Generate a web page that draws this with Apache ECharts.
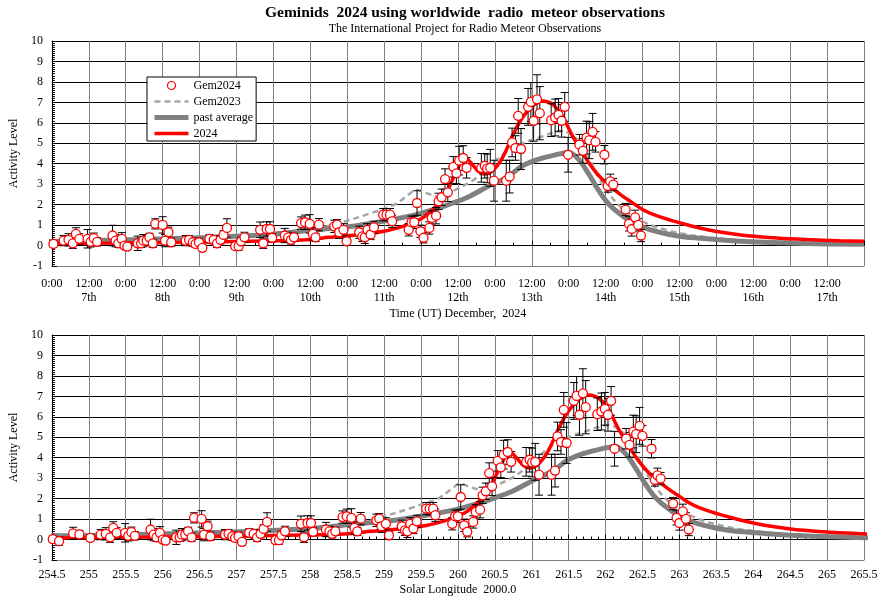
<!DOCTYPE html>
<html><head><meta charset="utf-8">
<script src="https://cdn.jsdelivr.net/npm/echarts@6/dist/echarts.min.js"></script>
<style>html,body{margin:0;padding:0;background:#fff}#c{width:885px;height:604px}</style>
</head><body><div id="c"></div>
<script>
// ---------- DATA ----------
// Observations: [hours since 2024-12-07 00:00 UT, activity level, error]
const gem2024Obs = [
[0.5,0.08,0.15],[3.8,0.24,0.25],[5.4,0.28,0.3],[6.8,0.11,0.25],[7.8,0.57,0.3],[8.9,0.33,0.25],
[11.6,0.33,0.45],[12.6,0.18,0.25],[13.6,0.36,0.25],[14.7,0.18,0.2],
[19.7,0.49,0.5],[20.7,0.24,0.3],[21.6,0.11,0.2],[22.7,0.33,0.3],[23.6,0.0,0.15],[24.5,-0.05,0.15],
[27.9,0.11,0.35],[29.0,0.11,0.2],[29.7,0.24,0.3],[30.8,0.24,0.25],[31.7,0.40,0.2],[32.8,0.11,0.2],
[33.6,1.06,0.25],[36.0,1.01,0.4],[36.8,0.24,0.3],[37.9,0.65,0.25],[38.8,0.16,0.2],
[43.5,0.24,0.25],[44.6,0.28,0.2],[45.8,0.16,0.2],[46.7,0.08,0.15],[47.8,0.16,0.2],[48.9,-0.11,0.15],
[51.2,0.33,0.2],[52.6,0.28,0.2],[53.7,0.11,0.2],[54.8,0.28,0.2],[55.8,0.52,0.2],[56.9,0.86,0.45],
[59.6,-0.03,0.15],[60.7,-0.03,0.2],[61.5,0.21,0.2],[62.6,0.40,0.25],
[67.7,0.77,0.38],[68.7,0.11,0.25],[69.8,0.81,0.35],[70.9,0.81,0.35],[71.6,0.38,0.2],
[75.7,0.49,0.35],[76.8,0.40,0.25],[77.7,0.28,0.2],[78.7,0.40,0.2],
[81.0,1.10,0.3],[82.3,1.14,0.35],[83.8,1.06,0.45],[84.8,0.57,0.3],[85.7,0.40,0.2],[86.8,1.02,0.3],
[91.8,0.94,0.3],[92.7,1.02,0.25],[93.4,0.65,0.3],[94.8,0.77,0.3],[95.8,0.21,0.2],
[99.9,0.65,0.3],[100.9,0.45,0.25],[101.7,0.40,0.3],[102.6,0.77,0.3],[103.6,0.54,0.25],[104.7,0.89,0.3],
[107.7,1.51,0.3],[108.8,1.51,0.3],[109.9,1.51,0.3],[110.6,1.19,0.3],
[116.0,0.77,0.3],[116.9,1.14,0.3],[117.8,1.14,0.3],[118.7,2.08,0.6],[119.8,0.70,0.3],[120.8,0.38,0.25],
[122.7,0.86,0.3],[123.5,1.35,0.35],[124.9,1.46,0.4],[125.7,2.16,0.4],[126.7,2.36,0.4],[127.8,3.25,0.5],[128.7,2.60,0.45],
[130.5,3.85,0.5],[131.5,3.53,0.5],[132.4,4.15,0.7],[133.7,4.28,0.6],[134.8,3.80,0.5],
[139.6,3.80,0.7],[140.7,3.90,0.6],[141.5,3.77,0.7],[142.5,3.80,0.9],[143.7,3.17,1.0],
[147.7,3.17,1.0],[148.8,3.37,0.8],[149.6,5.04,0.7],[150.7,4.77,0.6],[151.6,6.34,0.85],[152.5,4.72,1.0],
[154.8,6.78,0.9],[155.7,7.02,0.95],[156.6,6.10,1.0],[157.7,7.15,1.2],[158.6,6.47,1.3],
[162.3,6.13,0.8],[163.6,6.26,0.9],[164.7,6.39,0.8],[165.7,6.10,0.8],[166.7,6.78,0.7],[167.8,4.44,0.85],
[171.5,4.93,0.5],[172.6,4.63,0.6],[173.8,5.28,0.8],[174.7,5.15,0.9],[175.8,5.56,0.9],[176.7,5.07,0.5],
[179.6,4.44,0.45],[180.7,2.91,0.3],[181.5,3.14,0.35],[182.5,2.98,0.3],
[186.5,1.76,0.3],[187.6,1.06,0.35],[188.5,0.81,0.35],[189.6,1.38,0.35],[190.6,1.01,0.3],[191.5,0.49,0.3]
];
// observations before Dec 7 00:00 (visible only on the solar-longitude panel)
const gem2024EarlyObs = [[-11.5,0.02,0.15],[-9.5,-0.08,0.2],[-5.0,0.30,0.3],[-3.0,0.25,0.2]];

// Curves: [hours since 2024-12-07 00:00 UT, activity level]
const curve2024 = [[-12,0.08],[0,0.1],[24,0.12],[48,0.17],[72,0.23],[84,0.3],[90,0.4],[102,0.57],[108,0.7],[113,0.89],[117,1.1],[121,1.4],[125,1.95],[128,2.55],[130.5,3.3],[132.5,3.95],[134.3,4.28],[136.5,4.0],[138.5,3.65],[140.5,3.5],[143,3.62],[146.5,4.3],[150,5.45],[153,6.26],[156.3,6.83],[159.5,7.07],[162.7,6.91],[165.9,6.34],[169.2,5.37],[172.4,4.55],[175.6,3.82],[178.8,3.25],[182,2.84],[185.3,2.44],[188.5,2.11],[191.7,1.79],[195,1.55],[198.2,1.38],[204.6,1.09],[213.2,0.77],[224,0.52],[234.6,0.38],[245.4,0.29],[256,0.23],[264,0.21]];
const curvePastAverage = [[-12,0.18],[0,0.2],[24,0.28],[48,0.38],[72,0.55],[86,0.78],[97,0.93],[108,1.2],[118,1.5],[124,1.75],[129.4,2.03],[135,2.35],[142.3,2.93],[148,3.35],[153,3.9],[158.4,4.23],[163.8,4.44],[168,4.55],[171.3,4.2],[174.5,3.5],[177.8,2.68],[181,2.03],[185,1.5],[189.6,1.05],[195,0.75],[198,0.63],[204.6,0.44],[213,0.33],[224,0.21],[235,0.15],[245,0.1],[264,0.06]];
const curveGem2023 = [[-12,0.2],[0,0.22],[24,0.3],[48,0.42],[72,0.62],[86,0.85],[92.5,1.06],[103,1.55],[111.7,2.03],[116,2.5],[118.4,2.73],[122,2.55],[126.2,2.4],[131.5,2.75],[137,3.2],[142.3,3.9],[148,4.6],[153,5.0],[158.4,5.28],[163.8,5.55],[166,5.6],[168,5.5],[171.3,5.1],[174.5,4.3],[177.8,3.3],[181,2.55],[185,1.87],[189.6,1.38],[195,0.98],[200,0.75],[206,0.55],[213,0.4],[224,0.26],[235,0.18],[245,0.12],[264,0.08]];

// Axis settings / labels
const titleText = 'Geminids  2024 using worldwide  radio  meteor observations';
const subtitleText = 'The International Project for Radio Meteor Observations';
const timeAxisName = 'Time (UT) December,  2024';
const slAxisName = 'Solar Longitude  2000.0';
const yAxisName = 'Activity Level';
const firstDay = 7;
const SL_AT_START = 255.0;     // solar longitude at 2024-12-07 00:00 UT
const DEG_PER_DAY = 1.0185;

// ---------- CHART ----------
const FONT = "'Liberation Serif','Times New Roman',serif";
const toSL = h => SL_AT_START + h / 24 * DEG_PER_DAY;
const mapCurve = (c, f) => c.map(p => [f(p[0]), p[1]]);
const mapObs = (c, f) => c.map(p => [f(p[0]), p[1], p[2]]);
const ident = h => h;

const chart = echarts.init(document.getElementById('c'), null, {renderer: 'canvas'});

function yAxis(gi) {
  return {
    gridIndex: gi, type: 'value', min: -1, max: 10, interval: 1,
    axisLine: {show: true, onZero: false, lineStyle: {color: '#000', width: 1}},
    axisTick: {show: true, inside: true, length: 5, lineStyle: {color: '#000'}},
    minorTick: {show: true, splitNumber: 10, length: 3, lineStyle: {color: '#000'}},
    splitLine: {show: true, lineStyle: {color: '#000', width: 1}},
    axisLabel: {margin: 9, fontFamily: FONT, fontSize: 12, color: '#000'},
    name: yAxisName, nameLocation: 'middle', nameGap: 25, nameRotate: 90,
    nameTextStyle: {fontFamily: FONT, fontSize: 12, color: '#000'}
  };
}
function labelXAxis(gi, min, max, interval, fmt, name, nameGap, showMax, margin) {
  return {
    gridIndex: gi, type: 'value', min: min, max: max, interval: interval, position: 'bottom',
    axisLine: {show: true, onZero: false, lineStyle: {color: '#808080', width: 1}},
    axisTick: {show: false},
    splitLine: {show: true, lineStyle: {color: '#808080', width: 1}},
    axisLabel: {formatter: fmt, showMaxLabel: showMax, showMinLabel: true, margin: margin,
      fontFamily: FONT, fontSize: 12, color: '#000', lineHeight: 14},
    name: name, nameLocation: 'middle', nameGap: nameGap,
    nameTextStyle: {fontFamily: FONT, fontSize: 12, color: '#000'}
  };
}
function zeroXAxis(gi, min, max, interval, minorSplit) {
  return {
    gridIndex: gi, type: 'value', min: min, max: max, interval: interval, position: 'bottom',
    axisLine: {show: true, onZero: true, lineStyle: {color: '#000', width: 1}},
    axisTick: {show: true, inside: true, length: 5, lineStyle: {color: '#000'}},
    minorTick: {show: true, splitNumber: minorSplit, length: 3, lineStyle: {color: '#000'}},
    axisLabel: {show: false}, splitLine: {show: false}
  };
}
const timeFmt = v => {
  if (v % 24 === 0) return '0:00';
  return '12:00\n' + (firstDay + Math.floor(v / 24)) + 'th';
};
const slFmt = v => String(v);

function errRender(params, api) {
  const x = api.value(0), v = api.value(1), e = api.value(2);
  const t = api.coord([x, v + e]), b = api.coord([x, v - e]);
  const w = 4, st = {stroke: '#000', lineWidth: 1};
  return {type: 'group', children: [
    {type: 'line', shape: {x1: t[0], y1: t[1], x2: b[0], y2: b[1]}, style: st},
    {type: 'line', shape: {x1: t[0] - w, y1: t[1], x2: t[0] + w, y2: t[1]}, style: st},
    {type: 'line', shape: {x1: b[0] - w, y1: b[1], x2: b[0] + w, y2: b[1]}, style: st}
  ]};
}

function panelSeries(xi, yi, f, obs) {
  return [
    {name: 'Gem2023', type: 'line', xAxisIndex: xi, yAxisIndex: yi, data: mapCurve(curveGem2023, f),
      showSymbol: false, symbol: 'none', smooth: 0.35, itemStyle: {color: '#a6a6a6'},
      lineStyle: {color: '#a6a6a6', width: 2.5, type: [6, 4]}, z: 2, silent: true},
    {name: 'past average', type: 'line', xAxisIndex: xi, yAxisIndex: yi, data: mapCurve(curvePastAverage, f),
      showSymbol: false, symbol: 'none', smooth: 0.35, itemStyle: {color: '#808080'},
      lineStyle: {color: '#808080', width: 5}, z: 3, silent: true},
    {name: '2024', type: 'line', xAxisIndex: xi, yAxisIndex: yi, data: mapCurve(curve2024, f),
      showSymbol: false, symbol: 'none', smooth: 0.35, itemStyle: {color: '#ff0000'},
      lineStyle: {color: '#ff0000', width: 3.5}, z: 4, silent: true},
    {name: 'Gem2024', type: 'custom', xAxisIndex: xi, yAxisIndex: yi, data: mapObs(obs, f),
      renderItem: errRender, encode: {x: 0, y: 1}, z: 5, silent: true},
    {name: 'Gem2024', type: 'scatter', xAxisIndex: xi, yAxisIndex: yi, data: mapObs(obs, f),
      symbol: 'circle', symbolSize: 9, itemStyle: {color: '#fff', borderColor: '#ff0000', borderWidth: 1.3, opacity: 1}, z: 6, silent: true}
  ];
}

const hiddenSym = {opacity: 0, borderWidth: 0};
const option = {
  animation: false,
  backgroundColor: '#fff',
  graphic: [
    {type: 'text', x: 465, y: 13, style: {text: titleText, font: 'bold 15.5px ' + FONT, fill: '#000', align: 'center', verticalAlign: 'middle'}},
    {type: 'text', x: 465, y: 29, style: {text: subtitleText, font: '12px ' + FONT, fill: '#000', align: 'center', verticalAlign: 'middle'}}
  ],
  grid: [
    {left: 45, top: 41, width: 819, height: 225},
    {left: 45, top: 335, width: 819, height: 225}
  ],
  legend: {
    left: 147, top: 77, orient: 'vertical', itemWidth: 34, itemHeight: 8, itemGap: 3,
    padding: [2, 3, 1, 5], backgroundColor: '#fff', borderColor: '#000', borderWidth: 1, borderRadius: 0,
    textStyle: {fontFamily: FONT, fontSize: 12, color: '#000', lineHeight: 13},
    selectedMode: false,
    data: [
      {name: 'Gem2024', icon: 'circle', itemStyle: {color: '#fff', borderColor: '#ff0000', borderWidth: 1.2}},
      {name: 'Gem2023', itemStyle: hiddenSym, lineStyle: {width: 2.5, color: '#a6a6a6', type: [6, 4]}},
      {name: 'past average', itemStyle: hiddenSym, lineStyle: {width: 5, color: '#808080'}},
      {name: '2024', itemStyle: hiddenSym, lineStyle: {width: 3.5, color: '#ff0000'}}
    ]
  },
  xAxis: [
    labelXAxis(0, 0, 264, 12, timeFmt, timeAxisName, 42, false, 11),
    zeroXAxis(0, 0, 264, 12, 2),
    labelXAxis(1, 254.5, 265.5, 0.5, slFmt, slAxisName, 24, true, 8),
    zeroXAxis(1, 254.5, 265.5, 0.5, 5)
  ],
  yAxis: [yAxis(0), yAxis(1)],
  series: [].concat(
    panelSeries(0, 0, ident, gem2024Obs),
    panelSeries(2, 1, toSL, gem2024EarlyObs.concat(gem2024Obs))
  )
};
chart.setOption(option);
</script></body></html>
